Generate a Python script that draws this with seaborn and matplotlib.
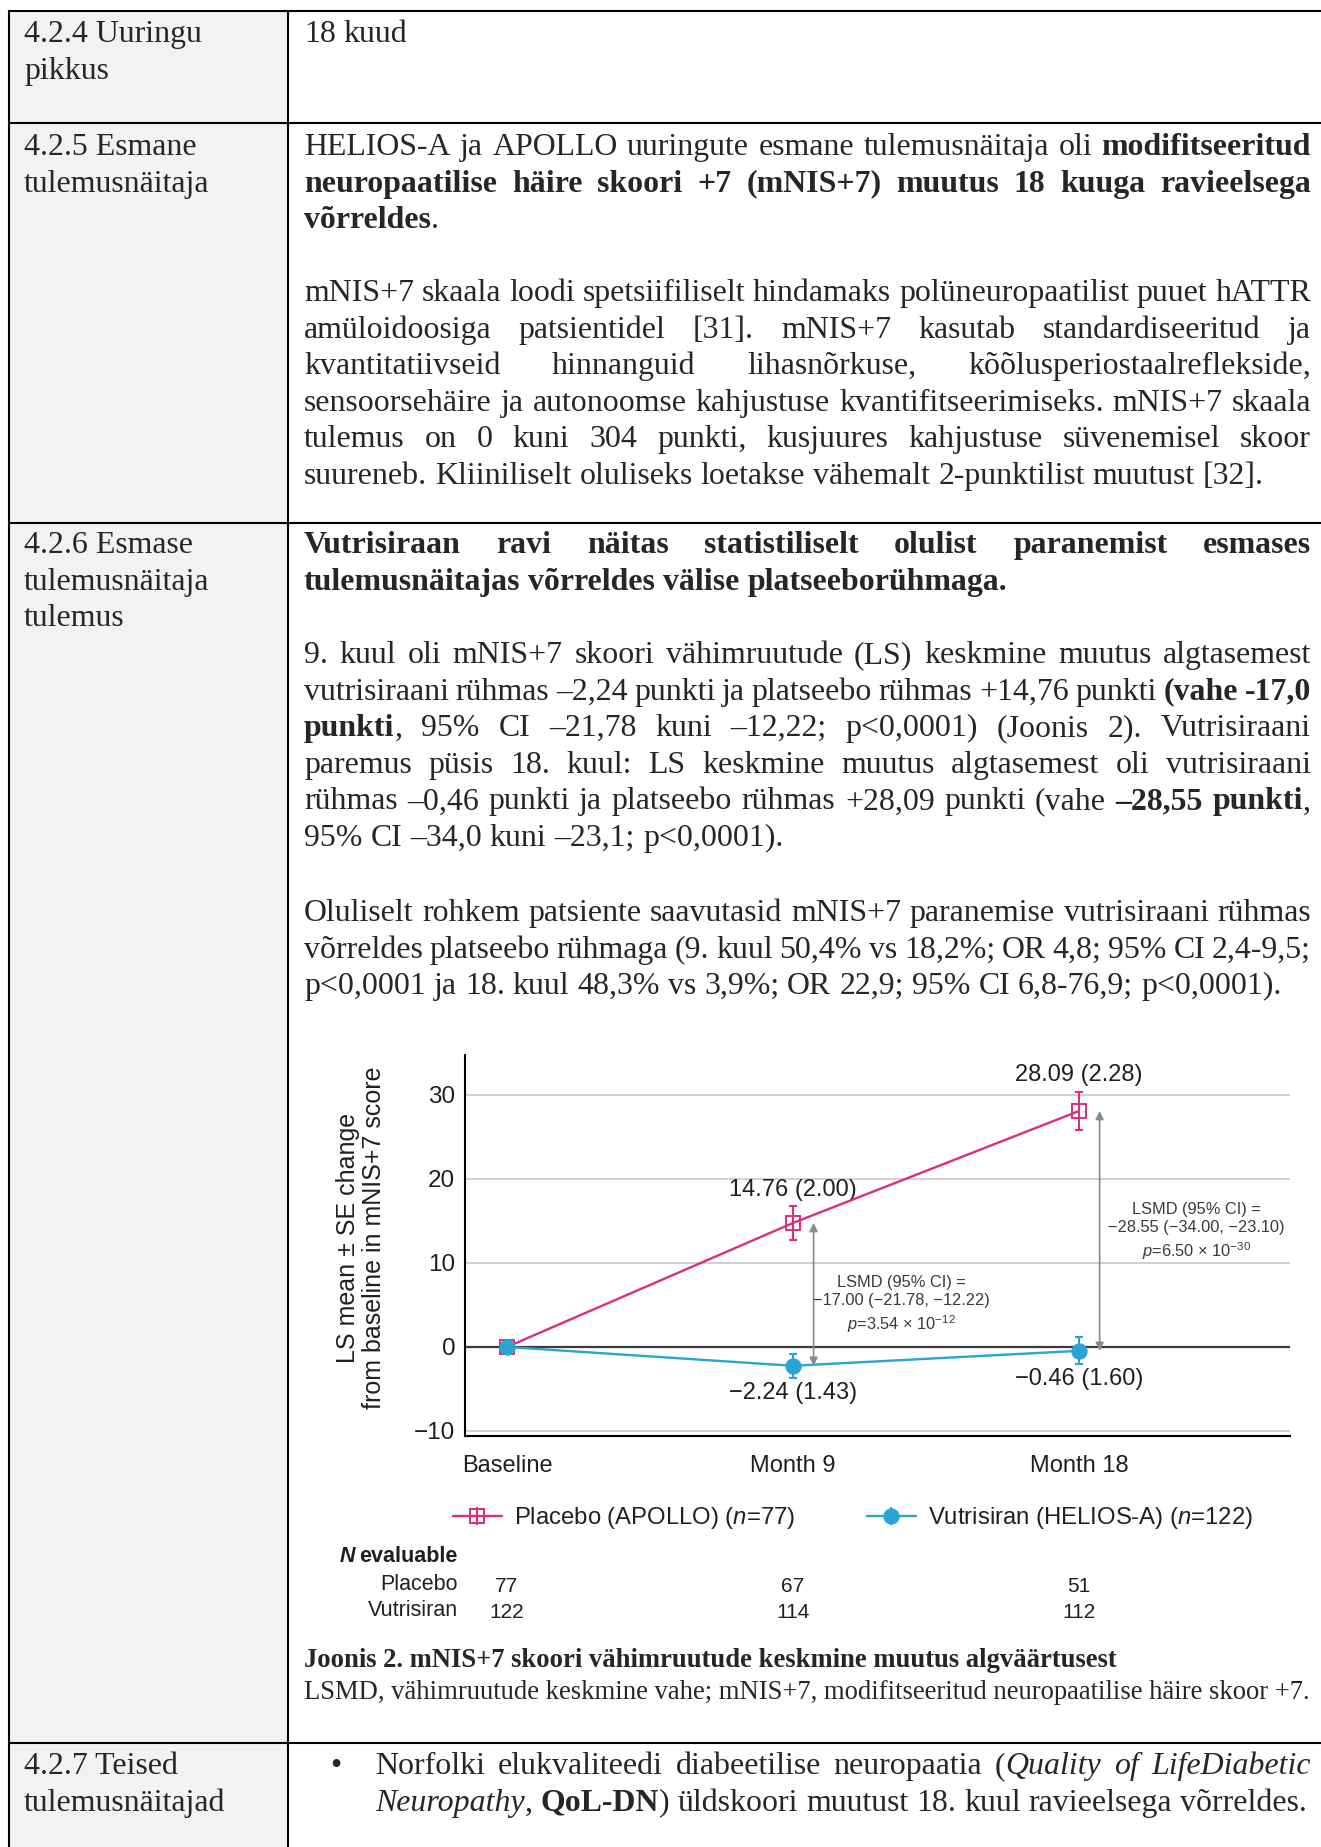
import numpy as np
import pandas as pd
import seaborn as sns
import matplotlib.pyplot as plt
from matplotlib import transforms
from matplotlib.lines import Line2D
from matplotlib.patches import Rectangle
from matplotlib.legend_handler import HandlerTuple

# chart values
months = [0, 9, 18]
month_labels = ["Baseline", "Month 9", "Month 18"]
groups = ["Placebo", "Vutrisiran"]
placebo_mean = [0.0, 14.76, 28.09]
placebo_se = [0.0, 2.00, 2.28]
vutri_mean = [0.0, -2.24, -0.46]
vutri_se = [0.0, 1.43, 1.60]
n_placebo = [77, 67, 51]
n_vutri = [122, 114, 112]
yticks = [-10, 0, 10, 20, 30]
legend_labels = ["Placebo (APOLLO) ($n$=77)", "Vutrisiran (HELIOS-A) ($n$=122)"]
lsmd_m9 = "LSMD (95% CI) =\n\u221217.00 (\u221221.78, \u221212.22)\n$p$=3.54 \u00d7 10$^{-12}$"
lsmd_m18 = "LSMD (95% CI) =\n\u221228.55 (\u221234.00, \u221223.10)\n$p$=6.50 \u00d7 10$^{-30}$"

# document text around the chart
left_cells = [
    (["4.2.4 Uuringu", "pikkus"], 42),
    (["4.2.5 Esmane", "tulemusnäitaja"], 155),
    (["4.2.6 Esmase", "tulemusnäitaja", "tulemus"], 553),
    (["4.2.7 Teised", "tulemusnäitajad"], 1774),
]
paragraphs = [
    (42, [[("18 kuud", "n")]]),
    (155, [
        [("HELIOS-A ja APOLLO uuringute esmane tulemusnäitaja oli ", "n"), ("modifitseeritud", "b")],
        [("neuropaatilise häire skoori +7 (mNIS+7) muutus 18 kuuga ravieelsega", "b")],
        [("võrreldes", "b"), (".", "n")],
    ]),
    (301, [
        [("mNIS+7 skaala loodi spetsiifiliselt hindamaks polüneuropaatilist puuet hATTR", "n")],
        [("amüloidoosiga patsientidel [31]. mNIS+7 kasutab standardiseeritud ja", "n")],
        [("kvantitatiivseid hinnanguid lihasnõrkuse, kõõlusperiostaalreflekside,", "n")],
        [("sensoorsehäire ja autonoomse kahjustuse kvantifitseerimiseks. mNIS+7 skaala", "n")],
        [("tulemus on 0 kuni 304 punkti, kusjuures kahjustuse süvenemisel skoor", "n")],
        [("suureneb. Kliiniliselt oluliseks loetakse vähemalt 2-punktilist muutust [32].", "n")],
    ]),
    (553, [
        [("Vutrisiraan ravi näitas statistiliselt olulist paranemist esmases", "b")],
        [("tulemusnäitajas võrreldes välise platseeborühmaga.", "b")],
    ]),
    (663, [
        [("9. kuul oli mNIS+7 skoori vähimruutude (LS) keskmine muutus algtasemest", "n")],
        [("vutrisiraani rühmas –2,24 punkti ja platseebo rühmas +14,76 punkti ", "n"), ("(vahe -17,0", "b")],
        [("punkti", "b"), (", 95% CI –21,78 kuni –12,22; p<0,0001) (Joonis 2). Vutrisiraani", "n")],
        [("paremus püsis 18. kuul: LS keskmine muutus algtasemest oli vutrisiraani", "n")],
        [("rühmas –0,46 punkti ja platseebo rühmas +28,09 punkti (vahe ", "n"), ("–28,55 punkti", "b"), (",", "n")],
        [("95% CI –34,0 kuni –23,1; p<0,0001).", "n")],
    ]),
    (921, [
        [("Oluliselt rohkem patsiente saavutasid mNIS+7 paranemise vutrisiraani rühmas", "n")],
        [("võrreldes platseebo rühmaga (9. kuul 50,4% vs 18,2%; OR 4,8; 95% CI 2,4-9,5;", "n")],
        [("p<0,0001 ja 18. kuul 48,3% vs 3,9%; OR 22,9; 95% CI 6,8-76,9; p<0,0001).", "n")],
    ]),
]
bullet_lines = [
    [("Norfolki elukvaliteedi diabeetilise neuropaatia (", "n"), ("Quality of LifeDiabetic", "i")],
    [("Neuropathy", "i"), (", ", "n"), ("QoL-DN", "b"), (") üldskoori muutust 18. kuul ravieelsega võrreldes.", "n")],
]
caption_bold = "Joonis 2. mNIS+7 skoori vähimruutude keskmine muutus algväärtusest"
caption_note = "LSMD, vähimruutude keskmine vahe; mNIS+7, modifitseeritud neuropaatilise häire skoor +7."

PINK = "#d92f7e"
BLUE = "#2aa5d3"
INK = "#231f20"
SERIF = "Liberation Serif"
STY = {"n": {}, "b": {"fontweight": "bold"}, "i": {"fontstyle": "italic"}}
LS = 36.6

sns.set_style("white")
plt.rcParams["font.family"] = "Liberation Sans"
plt.rcParams["mathtext.fontset"] = "custom"
plt.rcParams["mathtext.rm"] = "Liberation Sans"
plt.rcParams["mathtext.it"] = "Liberation Sans:italic"
plt.rcParams["mathtext.bf"] = "Liberation Sans:bold"

fig = plt.figure(figsize=(13.21, 18.47), dpi=100)
ax0 = fig.add_axes([0, 0, 1, 1])
ax0.set_xlim(0, 1321)
ax0.set_ylim(1847, 0)
ax0.axis("off")
renderer = fig.canvas.get_renderer()


def twidth(s, size, st="n", family=SERIF):
    t = ax0.text(0, 0, s, fontsize=size, family=family, **STY[st])
    w = t.get_window_extent(renderer).width
    t.remove()
    return w


def draw_line(runs, x0, x1, y, size, justify):
    words = [[]]
    for txt, st in runs:
        for i, p in enumerate(txt.split(" ")):
            if i > 0:
                words.append([])
            if p:
                words[-1].append((p, st))
    words = [w for w in words if w]
    widths = [[twidth(p, size, st) for p, st in w] for w in words]
    total = sum(sum(ws) for ws in widths)
    space = twidth("a a", size) - twidth("aa", size)
    gap = space
    if justify and len(words) > 1:
        gap = max((x1 - x0 - total) / (len(words) - 1), space * 0.4)
    x = x0
    for w, ws in zip(words, widths):
        for (p, st), pw in zip(w, ws):
            ax0.text(x, y, p, fontsize=size, family=SERIF, va="baseline", ha="left", **STY[st])
            x += pw
        x += gap


# body size fitted so the last line of the mNIS+7 paragraph runs to where it ends in the page
BODY = 21.5 * 960 / twidth("suureneb. Kliiniliselt oluliseks loetakse vähemalt 2-punktilist muutust [32].", 21.5)

# table frame
ax0.add_patch(Rectangle((9, 11), 279, 1836, fc="#f2f2f2", ec="none"))
for yy in [11, 123, 523, 1743]:
    ax0.plot([9, 1321], [yy, yy], color="black", lw=1.5)
for xx in [9, 288]:
    ax0.plot([xx, xx], [11, 1847], color="black", lw=1.5)

for lines, y0 in left_cells:
    for k, s in enumerate(lines):
        ax0.text(24, y0 + k * LS, s, fontsize=BODY, family=SERIF, va="baseline")

for y0, lines in paragraphs:
    for k, runs in enumerate(lines):
        draw_line(runs, 304, 1311, y0 + k * LS, BODY, justify=(k < len(lines) - 1))

ax0.text(336, 1774, "\u2022", fontsize=BODY, family=SERIF, va="baseline", ha="center")
for k, runs in enumerate(bullet_lines):
    draw_line(runs, 375, 1311, 1774 + k * LS, BODY, justify=(k < len(bullet_lines) - 1))

cap_size = 18 * 1007 / twidth(caption_note, 18)
ax0.text(304, 1667, caption_bold, fontsize=cap_size, family=SERIF, fontweight="bold", va="baseline")
ax0.text(304, 1699, caption_note, fontsize=cap_size, family=SERIF, va="baseline")

# chart
ax = fig.add_axes([465 / 1321, (1847 - 1436) / 1847, (1290 - 465) / 1321, (1436 - 1055) / 1847])
df = pd.DataFrame({
    "month": months * 2,
    "mean": placebo_mean + vutri_mean,
    "group": [groups[0]] * len(months) + [groups[1]] * len(months),
})
sns.lineplot(data=df, x="month", y="mean", hue="group", style="group", hue_order=groups,
             style_order=groups, markers={groups[0]: "s", groups[1]: "o"}, dashes=False,
             palette={groups[0]: PINK, groups[1]: BLUE}, errorbar=None, legend=False,
             lw=1.7, ax=ax)
line_p, line_v = ax.lines[0], ax.lines[1]
line_p.set(markerfacecolor="none", markeredgecolor=PINK, markeredgewidth=1.4, markersize=10, zorder=4)
line_v.set(markerfacecolor=BLUE, markeredgecolor=BLUE, markersize=11, zorder=5)

ax.errorbar(months, placebo_mean, yerr=placebo_se, fmt="none", ecolor=PINK,
            elinewidth=1.5, capsize=2.8, capthick=1.5, zorder=3)
ax.errorbar(months, vutri_mean, yerr=vutri_se, fmt="none", ecolor=BLUE,
            elinewidth=1.5, capsize=2.8, capthick=1.5, zorder=3)

ax.set_xlim(-1.32, 24.64)
ax.set_ylim(-10.6, 34.76)
ax.set_xticks(months, month_labels)
ax.set_yticks(yticks)
ax.set_xlabel("")
ax.set_axisbelow(True)
ax.grid(axis="y", color="#c9c9c9", lw=1.2)
ax.axhline(0, color="#3a3a3a", lw=1.6, zorder=1.5)
for s in ["top", "right"]:
    ax.spines[s].set_visible(False)
for s in ["left", "bottom"]:
    ax.spines[s].set_color("black")
    ax.spines[s].set_linewidth(1.5)
ax.tick_params(axis="both", direction="out", length=5, width=1.2, colors=INK, labelsize=17.5)
ax.tick_params(axis="x", pad=9, labelsize=17)
ax.tick_params(axis="y", pad=2)
ax.set_ylabel("LS mean \u00b1 SE change\nfrom baseline in mNIS+7 score", fontsize=18,
              linespacing=1.1, color=INK)
ax.yaxis.set_label_coords(-0.096, 0.52)


def fmt(m, s):
    return f"{m:.2f} ({s:.2f})".replace("-", "\u2212")


for x, m, s in zip(months[1:], placebo_mean[1:], placebo_se[1:]):
    ax.annotate(fmt(m, s), xy=(x, m + s), xytext=(0, 4), textcoords="offset points",
                ha="center", va="bottom", fontsize=17, color=INK)
for x, m, s in zip(months[1:], vutri_mean[1:], vutri_se[1:]):
    ax.annotate(fmt(m, s), xy=(x, m - s), xytext=(0, -3), textcoords="offset points",
                ha="center", va="top", fontsize=17, color=INK)

for x, top, bot in zip(months[1:], placebo_mean[1:], vutri_mean[1:]):
    ax.annotate("", xy=(x + 0.65, bot), xytext=(x + 0.65, top),
                arrowprops=dict(arrowstyle="<|-|>", color="#8a8a8a", lw=1.2,
                                mutation_scale=12, shrinkA=0, shrinkB=0))
ax.text(12.4, 5.0, lsmd_m9, ha="center", va="center", fontsize=11.8, linespacing=1.3, color="#3a3a3a")
ax.text(21.7, 13.7, lsmd_m18, ha="center", va="center", fontsize=11.8, linespacing=1.3, color="#3a3a3a")

# legend handles: line with marker, with a vertical bar laid over it for the error bar
bar_p = Line2D([], [], color=PINK, marker="|", markersize=13, markeredgewidth=1.5, ls="none")
bar_v = Line2D([], [], color=BLUE, marker="|", markersize=13, markeredgewidth=1.5, ls="none")
fig.legend([(line_p, bar_p), (line_v, bar_v)], legend_labels, loc="center left",
           bbox_to_anchor=(453 / 1321, 1 - 1518 / 1847), ncol=2, frameon=False,
           fontsize=17.2, handlelength=2.05, handletextpad=0.5, columnspacing=3.0,
           borderpad=0, borderaxespad=0, labelcolor=INK,
           handler_map={tuple: HandlerTuple(ndivide=1, pad=0)})

# N evaluable table under the axis
mix = transforms.blended_transform_factory(ax.transData, ax0.transData)
w_eval = twidth("evaluable", 15.5, "b", family="Liberation Sans")
ax0.text(458, 1557, "evaluable", fontsize=15.5, fontweight="bold", ha="right", va="center", color=INK)
ax0.text(458 - w_eval - 4, 1557, "N", fontsize=15.5, fontweight="bold", fontstyle="italic",
         ha="right", va="center", color=INK)
for label, counts, yy in [(groups[0], n_placebo, 1585), (groups[1], n_vutri, 1610)]:
    ax0.text(458, yy, label, fontsize=15.5, ha="right", va="center", color=INK)
    for x, n in zip(months, counts):
        ax.text(x, yy + 2, str(n), transform=mix, fontsize=15, ha="center", va="center", color=INK)

fig.savefig("out.png", dpi=100, facecolor="white")
